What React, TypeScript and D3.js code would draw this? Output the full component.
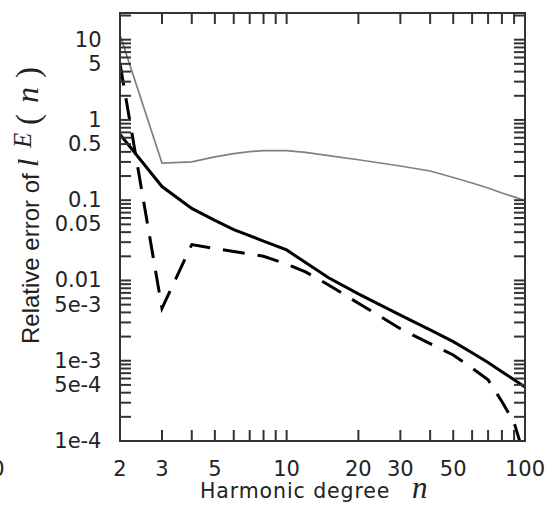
import React from "react";
import * as d3 from "d3";

// ---- data ----
const grayN = [2, 3, 4, 5, 6, 7, 8, 10, 12, 15, 20, 30, 40, 50, 60, 70, 80, 90, 100];
const grayErr = [11.5, 0.29, 0.3, 0.346, 0.381, 0.402, 0.415, 0.415, 0.395, 0.359, 0.319, 0.267, 0.231, 0.192, 0.164, 0.142, 0.123, 0.11, 0.099];

const solidN = [2, 3, 4, 5, 6, 8, 10, 12, 15, 20, 30, 40, 50, 60, 70, 80, 90, 100];
const solidErr = [0.66, 0.148, 0.079, 0.056, 0.043, 0.031, 0.024, 0.0167, 0.0108, 0.0068, 0.0037, 0.00243, 0.00173, 0.00126, 0.00095, 0.00073, 0.00058, 0.00047];

const dashN = [2, 3, 4, 5, 6, 8, 10, 12, 15, 20, 25, 30, 40, 50, 60, 70, 80, 90, 95, 100];
const dashErr = [5, 0.0045, 0.028, 0.025, 0.023, 0.02, 0.016, 0.0128, 0.0088, 0.0052, 0.0035, 0.0025, 0.00163, 0.00118, 0.00081, 0.00058, 0.00031, 0.00017, 0.0001, 0.00004];

const xTickLabels = [2, 3, 5, 10, 20, 30, 50, 100];
const yTickValues = [10, 5, 1, 0.5, 0.1, 0.05, 0.01, 0.005, 0.001, 0.0005, 0.0001];
const yTickLabels = ["10", "5", "1", "0.5", "0.1", "0.05", "0.01", "5e-3", "1e-3", "5e-4", "1e-4"];

const X_DOMAIN: [number, number] = [2, 100];
const Y_DOMAIN: [number, number] = [1e-4, 21.5];

export default function App() {
  const W = 550, H = 513;
  const L = 120, R = 525, T = 13, B = 441;
  const x = d3.scaleLog().domain(X_DOMAIN).range([L, R]);
  const y = d3.scaleLog().domain(Y_DOMAIN).range([B, T]);

  const line = d3
    .line<[number, number]>()
    .x((d) => x(d[0]))
    .y((d) => y(d[1]));

  const zip = (a: number[], b: number[]) => a.map((v, i) => [v, b[i]] as [number, number]);

  const xTicks: number[] = [];
  for (let e = 0; e <= 2; e++) {
    for (let m = 1; m <= 9; m++) {
      const v = m * Math.pow(10, e);
      if (v > X_DOMAIN[0] && v < X_DOMAIN[1]) xTicks.push(v);
    }
  }
  const yTicks: number[] = [];
  for (let e = -4; e <= 1; e++) {
    for (let m = 1; m <= 9; m++) {
      const v = m * Math.pow(10, e);
      if (v > Y_DOMAIN[0] * 1.0001 && v < Y_DOMAIN[1]) yTicks.push(v);
    }
  }
  const TL = 11;
  const axisColor = "#333";
  const tickFont = "DejaVu Sans";
  const mathFont = "Liberation Serif";

  return (
    <svg
      width={W}
      height={H}
      style={{ position: "absolute", left: 0, top: 0, background: "#fff" }}
    >
      <defs>
        <clipPath id="plot">
          <rect x={L} y={T} width={R - L} height={B - T} />
        </clipPath>
      </defs>
      <rect x={0} y={0} width={W} height={H} fill="#fff" />

      {/* data lines */}
      <g clipPath="url(#plot)" fill="none">
        <path d={line(zip(grayN, grayErr)) || ""} stroke="#808080" strokeWidth={1.7} />
        <path d={line(zip(dashN, dashErr)) || ""} stroke="#000" strokeWidth={3} strokeDasharray="22,13" />
        <path d={line(zip(solidN, solidErr)) || ""} stroke="#000" strokeWidth={3} />
      </g>

      {/* ticks */}
      <g stroke={axisColor} strokeWidth={2}>
        {xTicks.map((v) => (
          <g key={"xt" + v}>
            <line x1={x(v)} x2={x(v)} y1={B} y2={B - TL} />
            <line x1={x(v)} x2={x(v)} y1={T} y2={T + TL} />
          </g>
        ))}
        {yTicks.map((v) => (
          <g key={"yt" + v}>
            <line x1={L} x2={L + TL} y1={y(v)} y2={y(v)} />
            <line x1={R} x2={R - TL} y1={y(v)} y2={y(v)} />
          </g>
        ))}
      </g>

      {/* frame */}
      <rect x={L} y={T} width={R - L} height={B - T} fill="none" stroke={axisColor} strokeWidth={2} />

      {/* tick labels */}
      <g fontFamily={tickFont} fontSize={21} fill="#222">
        {xTickLabels.map((v) => (
          <text key={"xl" + v} x={x(v)} y={476} textAnchor="middle">
            {v}
          </text>
        ))}
        {yTickValues.map((v, i) => (
          <text key={"yl" + v} x={101.5} y={y(v)} textAnchor="end" dominantBaseline="central">
            {yTickLabels[i]}
          </text>
        ))}
        {/* label of the neighbouring panel, cut by the image edge */}
        <text x={4.5} y={476} textAnchor="end">100</text>
      </g>

      {/* x axis title */}
      <text x={200} y={498} fontFamily={tickFont} fontSize={20.5} letterSpacing={0.9} fill="#222">
        Harmonic degree
      </text>
      <text x={412} y={498} fontFamily={mathFont} fontStyle="italic" fontSize={31} fill="#222">
        n
      </text>

      {/* y axis title */}
      <g fill="#222">
        <text transform="translate(39,344) rotate(-90)" fontFamily="Liberation Sans" fontSize={24}>
          Relative error of
        </text>
        <text transform="translate(38,167) rotate(-90)" fontFamily={mathFont} fontStyle="italic" fontSize={30}>
          l
        </text>
        <text transform="translate(31,148) rotate(-90)" fontFamily={mathFont} fontStyle="italic" fontSize={25}>
          E
        </text>
        <text transform="translate(39,125) rotate(-90)" fontFamily={mathFont} fontSize={33}>
          (
        </text>
        <text transform="translate(38,103) rotate(-90)" fontFamily={mathFont} fontStyle="italic" fontSize={32}>
          n
        </text>
        <text transform="translate(39,78) rotate(-90)" fontFamily={mathFont} fontSize={33}>
          )
        </text>
      </g>
    </svg>
  );
}
